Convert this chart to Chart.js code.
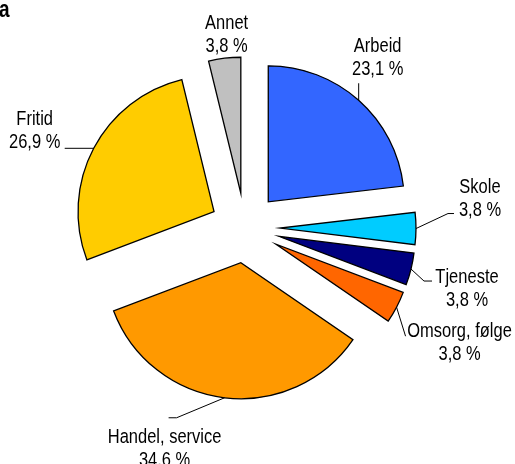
<!DOCTYPE html>
<html>
<head>
<meta charset="utf-8">
<script src="https://cdn.jsdelivr.net/npm/chart.js@4"></script>
<style>
  html, body { margin: 0; background: #fff; }
  canvas { display: block; }
</style>
</head>
<body>
<canvas id="chart" width="515" height="464"></canvas>
<script>
// Data
const labels = ['Arbeid', 'Skole', 'Tjeneste', 'Omsorg, følge', 'Handel, service', 'Fritid', 'Annet'];
const shares = [23.1, 3.8, 3.8, 3.8, 34.6, 26.9, 3.8];
const shareText = ['23,1 %', '3,8 %', '3,8 %', '3,8 %', '34.6 %', '26,9 %', '3,8 %'];
const colors = ['#3366FF', '#00CCFF', '#000080', '#FF6600', '#FF9900', '#FFCC00', '#C0C0C0'];

// Layout
const EXPLODE = 35;       // every slice pulled out by the same distance
const LINE_H = 23;        // label line spacing
const FONT = '16.5px "Liberation Sans", Arial, sans-serif';
const STRETCH = 1.28;     // text in the original is vertically stretched

// leader line elbows and text position, relative to the slice's outer mid point
const labelLayout = [
  { line: [[0, -17]], dx: 19, dy: -48 },
  { line: [[32, -15], [38, -15]], dx: 64, dy: -36 },
  { line: [[13, 12], [21, 12]], dx: 56, dy: 14 },
  { line: [[9, 29]], dx: 63, dy: 30 },
  { line: [[-48, 20], [-56, 20]], dx: -60, dy: 45 },
  { line: [[-29, 0]], dx: -59, dy: -23 },
  { line: [], dx: 2, dy: -29 }
];

function stretchedText(ctx, text, x, y, font) {
  ctx.save();
  ctx.translate(x, y);
  ctx.scale(1, STRETCH);
  ctx.font = font;
  ctx.fillText(text, 0, 0);
  ctx.restore();
}

// move each arc out along its middle angle (keeps radius the same for all slices)
const explodePlugin = {
  id: 'explode',
  afterDatasetUpdate(chart, args) {
    const area = chart.chartArea;
    const cx = (area.left + area.right) / 2;
    const cy = (area.top + area.bottom) / 2;
    chart.getDatasetMeta(args.index).data.forEach(arc => {
      const mid = (arc.startAngle + arc.endAngle) / 2;
      arc.x = cx + EXPLODE * Math.cos(mid);
      arc.y = cy + EXPLODE * Math.sin(mid);
    });
  }
};

const labelPlugin = {
  id: 'sliceLabels',
  afterDraw(chart) {
    const ctx = chart.ctx;
    const arcs = chart.getDatasetMeta(0).data;
    ctx.save();
    ctx.fillStyle = '#000';
    ctx.strokeStyle = '#000';
    ctx.lineWidth = 1;
    ctx.textAlign = 'center';
    ctx.textBaseline = 'alphabetic';
    arcs.forEach((arc, i) => {
      const mid = (arc.startAngle + arc.endAngle) / 2;
      const ax = arc.x + arc.outerRadius * Math.cos(mid);
      const ay = arc.y + arc.outerRadius * Math.sin(mid);
      const lay = labelLayout[i];
      if (lay.line.length) {
        ctx.beginPath();
        ctx.moveTo(ax, ay);
        lay.line.forEach(p => ctx.lineTo(ax + p[0], ay + p[1]));
        ctx.stroke();
      }
      stretchedText(ctx, labels[i], ax + lay.dx, ay + lay.dy, FONT);
      stretchedText(ctx, shareText[i], ax + lay.dx, ay + lay.dy + LINE_H, FONT);
    });
    // panel letter
    ctx.textAlign = 'left';
    stretchedText(ctx, 'a', -1, 17, 'bold 19px "Liberation Sans", Arial, sans-serif');
    ctx.restore();
  }
};

const chart = new Chart(document.getElementById('chart'), {
  type: 'pie',
  data: {
    labels: labels,
    datasets: [{
      data: shares,
      backgroundColor: colors,
      borderColor: '#000',
      borderWidth: 1.3,
      borderJoinStyle: 'miter'
    }]
  },
  options: {
    responsive: false,
    animation: false,
    radius: 136,
    layout: { padding: { left: 0, right: 25, top: 0, bottom: 8 } },
    plugins: {
      legend: { display: false },
      tooltip: { enabled: false }
    }
  },
  plugins: [explodePlugin, labelPlugin]
});
</script>
</body>
</html>
